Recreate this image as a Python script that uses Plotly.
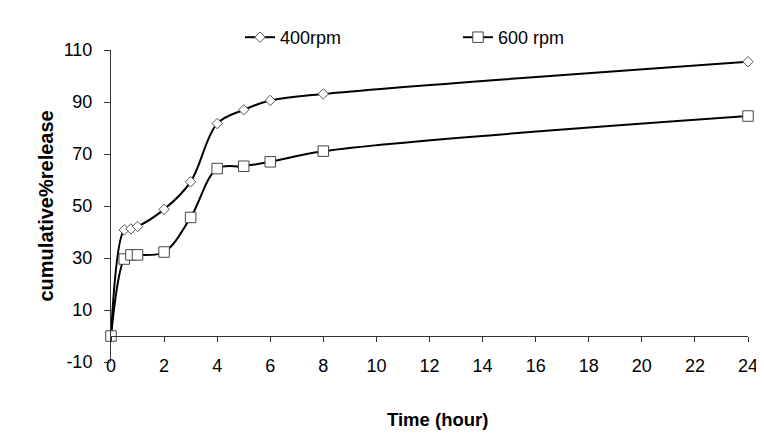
import plotly.graph_objects as go

time_h = [0, 0.5, 0.75, 1, 2, 3, 4, 5, 6, 8, 24]
rpm400 = [0, 40.8, 41.2, 42.1, 48.7, 59.3, 81.7, 87.0, 90.6, 93.1, 105.5]
rpm600 = [0, 29.6, 31.2, 31.2, 32.3, 45.6, 64.4, 65.3, 67.0, 71.1, 84.6]
x_ticks = list(range(0, 25, 2))
y_ticks = [-10, 10, 30, 50, 70, 90, 110]

FONT = "Liberation Sans, Arial, sans-serif"
L, R, T, B, W, H = 103, 24, 41, 91, 764, 445
PW, PH = W - L - R, H - T - B

fig = go.Figure()
fig.add_trace(go.Scatter(
    x=time_h, y=rpm400, name="400rpm", mode="lines+markers",
    line=dict(color="black", width=2, shape="spline", smoothing=1),
    marker=dict(symbol="diamond", size=8, color="white",
                line=dict(color="#555555", width=1)),
    cliponaxis=False,
))
fig.add_trace(go.Scatter(
    x=time_h, y=rpm600, name="600 rpm", mode="lines+markers",
    line=dict(color="black", width=2, shape="spline", smoothing=1),
    marker=dict(symbol="square", size=10.5, color="white",
                line=dict(color="#444444", width=1)),
    cliponaxis=False,
))
# invisible carrier so the tick-label axis is drawn
fig.add_trace(go.Scatter(
    x=time_h, y=rpm400, xaxis="x2", mode="markers",
    marker=dict(opacity=0), showlegend=False, hoverinfo="skip",
))

fig.update_layout(
    width=W, height=H,
    margin=dict(l=L, r=R, t=T, b=B),
    plot_bgcolor="white", paper_bgcolor="white",
    font=dict(family=FONT, size=18, color="black"),
    showlegend=True,
    legend=dict(orientation="h", x=(232 - L) / PW, xanchor="left",
                y=1 + (T - 29.5) / PH, yanchor="middle",
                entrywidth=173, entrywidthmode="pixels",
                font=dict(size=18), bgcolor="rgba(0,0,0,0)"),
    xaxis=dict(range=[0, 24], anchor="free", position=10 / 120,
               showline=True, linecolor="#333333", linewidth=1,
               ticks="outside", ticklen=5, tickcolor="#333333",
               tickvals=x_ticks, showticklabels=False,
               showgrid=False, zeroline=False),
    xaxis2=dict(range=[0, 24], overlaying="x", anchor="free", position=0.03,
                showline=False, ticks="", tickvals=x_ticks,
                ticktext=[str(v) for v in x_ticks],
                showgrid=False, zeroline=False, tickfont=dict(size=18)),
    yaxis=dict(range=[-10, 110], showline=True, linecolor="#333333", linewidth=1,
               ticks="outside", ticklen=6, tickcolor="#333333",
               tickvals=y_ticks, ticktext=[str(v) for v in y_ticks],
               showgrid=False, zeroline=False,
               ticklabelstandoff=8, tickfont=dict(size=18)),
    annotations=[
        dict(text="<b>cumulative%release</b>", x=(37.5 - L) / PW, y=1 - (197.5 - T) / PH,
             xref="paper", yref="paper", xanchor="center", yanchor="middle",
             showarrow=False, textangle=-90, font=dict(size=20)),
        dict(text="<b>Time (hour)</b>", x=(429 - L) / PW, y=1 - (412 - T) / PH,
             xref="paper", yref="paper", xanchor="center", yanchor="middle",
             showarrow=False, font=dict(size=18.5)),
    ],
)

fig.write_html("out.html")
